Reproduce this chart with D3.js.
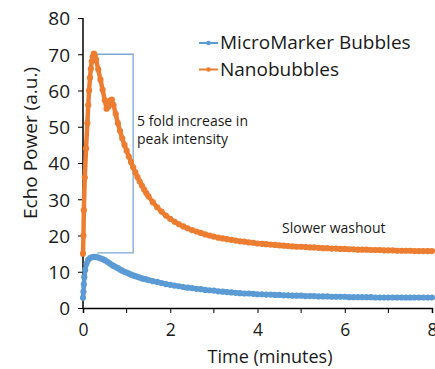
<!DOCTYPE html>
<html>
<head>
<meta charset="utf-8">
<script src="https://cdn.jsdelivr.net/npm/d3@7"></script>
<style>
  body { margin: 0; background: #fff; }
  text { font-family: "Open Sans", sans-serif; fill: #1a1a1a; }
</style>
</head>
<body>
<div id="chart"></div>
<script>
// Nanobubbles (orange) - time in minutes, echo power in a.u.
var nanoTime = [0, 0.01, 0.02, 0.04, 0.07, 0.10, 0.12, 0.14, 0.16, 0.18, 0.20, 0.22, 0.25,
  0.27, 0.30, 0.35, 0.40, 0.45, 0.50, 0.54, 0.58, 0.62, 0.66, 0.70, 0.75, 0.80, 0.85, 0.90, 0.95,
  1.00, 1.05, 1.10, 1.15, 1.20, 1.25, 1.30, 1.35, 1.40, 1.45, 1.50, 1.60, 1.70, 1.80, 1.90,
  2.00, 2.10, 2.20, 2.30, 2.40, 2.50, 2.60, 2.70, 2.80, 2.90, 3.00, 3.10, 3.20, 3.30, 3.40,
  3.50, 3.60, 3.70, 3.80, 3.90, 4.00, 4.10, 4.20, 4.30, 4.40, 4.50, 4.60, 4.70, 4.80, 4.90,
  5.00, 5.10, 5.20, 5.30, 5.40, 5.50, 5.60, 5.70, 5.80, 5.90, 6.00, 6.10, 6.20, 6.30, 6.40,
  6.50, 6.60, 6.70, 6.80, 6.90, 7.00, 7.10, 7.20, 7.30, 7.40, 7.50, 7.60, 7.70, 7.80, 7.90, 8.00];
var nanoValues = [15, 20, 27, 36, 44, 51, 56, 60, 63.5, 66, 68, 69.3, 70.2,
  69.8, 68.5, 65.8, 63, 60.2, 57.3, 55, 55.5, 57.2, 57.5, 56, 53.5, 51, 48.8, 46.8, 45,
  43.4, 41.8, 40.3, 38.8, 37.4, 36.1, 34.9, 33.8, 32.7, 31.7, 30.8, 29.2, 27.8, 26.6, 25.5,
  24.6, 23.8, 23.1, 22.5, 22.0, 21.5, 21.1, 20.7, 20.3, 20.0, 19.7, 19.4, 19.2, 19.0, 18.8,
  18.6, 18.4, 18.3, 18.1, 18.0, 17.8, 17.7, 17.6, 17.5, 17.4, 17.3, 17.2, 17.1, 17.0, 16.9,
  16.9, 16.8, 16.7, 16.7, 16.6, 16.5, 16.5, 16.4, 16.4, 16.3, 16.3, 16.2, 16.2, 16.1, 16.1,
  16.1, 16.0, 16.0, 16.0, 15.9, 15.9, 15.9, 15.8, 15.8, 15.8, 15.8, 15.7, 15.7, 15.7, 15.7, 15.7];

// MicroMarker Bubbles (blue)
var microTime = [0, 0.01, 0.02, 0.03, 0.05, 0.08, 0.12, 0.16, 0.20, 0.25, 0.30, 0.35, 0.40,
  0.45, 0.50, 0.55, 0.60, 0.65, 0.70, 0.75, 0.80, 0.85, 0.90, 0.95, 1.00, 1.05, 1.10, 1.15,
  1.20, 1.25, 1.30, 1.35, 1.40, 1.45, 1.50, 1.60, 1.70, 1.80, 1.90, 2.00, 2.10, 2.20, 2.30,
  2.40, 2.50, 2.60, 2.70, 2.80, 2.90, 3.00, 3.10, 3.20, 3.30, 3.40, 3.50, 3.60, 3.70, 3.80,
  3.90, 4.00, 4.10, 4.20, 4.30, 4.40, 4.50, 4.60, 4.70, 4.80, 4.90, 5.00, 5.10, 5.20, 5.30,
  5.40, 5.50, 5.60, 5.70, 5.80, 5.90, 6.00, 6.10, 6.20, 6.30, 6.40, 6.50, 6.60, 6.70, 6.80,
  6.90, 7.00, 7.10, 7.20, 7.30, 7.40, 7.50, 7.60, 7.70, 7.80, 7.90, 8.00];
var microValues = [2.8, 4.5, 6.5, 8.5, 10.5, 12.2, 13.3, 13.8, 14.0, 14.1, 14.1, 13.9, 13.7,
  13.5, 13.2, 12.8, 12.4, 12.0, 11.6, 11.3, 11.0, 10.6, 10.3, 10.0, 9.8, 9.5, 9.2, 9.0,
  8.8, 8.6, 8.4, 8.2, 8.0, 7.9, 7.7, 7.4, 7.2, 6.9, 6.6, 6.4, 6.2, 6.0, 5.8,
  5.6, 5.5, 5.3, 5.2, 5.0, 4.9, 4.8, 4.6, 4.5, 4.4, 4.3, 4.2, 4.1, 4.0, 4.0,
  3.9, 3.8, 3.8, 3.7, 3.7, 3.6, 3.6, 3.5, 3.5, 3.4, 3.4, 3.4, 3.3, 3.3, 3.3,
  3.2, 3.2, 3.2, 3.1, 3.1, 3.1, 3.1, 3.0, 3.0, 3.0, 3.0, 3.0, 3.0, 2.9, 2.9,
  2.9, 2.9, 2.9, 2.9, 2.9, 2.9, 2.9, 2.9, 2.9, 2.9, 2.9, 2.9];

var xTicks = [0, 2, 4, 6, 8];
var xMinorTicks = [1, 3, 5, 7];
var yTicks = [0, 10, 20, 30, 40, 50, 60, 70, 80];

// bracket marking the peak difference (time from, time to, top value, bottom value)
var bracket = { t0: 0.33, t1: 1.15, top: 70, bottom: 15.2 };

var width = 435;
var height = 369;
var margin = { top: 18, right: 3, bottom: 61, left: 83 };

var svg = d3.select('#chart').append('svg')
  .attr('width', width)
  .attr('height', height);

var x = d3.scaleLinear().domain([0, 8]).range([margin.left, width - margin.right]);
var y = d3.scaleLinear().domain([0, 80]).range([height - margin.bottom, margin.top]);

//Axes
var xAxis = svg.append('g')
  .attr('transform', 'translate(0,' + y(0) + ')')
  .call(d3.axisBottom(x).tickValues(xTicks).tickSize(5).tickPadding(11).tickFormat(d3.format('d')));
xAxis.append('g').selectAll('line').data(xMinorTicks).enter().append('line')
  .attr('x1', function(d) { return x(d); })
  .attr('x2', function(d) { return x(d); })
  .attr('y1', 0).attr('y2', 5)
  .attr('stroke', '#000');

var yAxis = svg.append('g')
  .attr('transform', 'translate(' + x(0) + ',0)')
  .call(d3.axisLeft(y).tickValues(yTicks).tickSize(5).tickPadding(8));

[xAxis, yAxis].forEach(function(a) {
  a.select('.domain').attr('stroke', '#000').attr('stroke-width', 1.5);
  a.selectAll('.tick line').attr('stroke', '#000');
  a.selectAll('.tick text').style('font-family', '"Open Sans", sans-serif').attr('fill', '#1a1a1a');
});
xAxis.selectAll('.tick text').style('font-size', '17.5px');
yAxis.selectAll('.tick text').style('font-size', '19px').attr('dy', '0.36em');
yAxis.select('.domain').attr('d', 'M0,' + y(80) + 'V' + y(0));

//Axis titles
svg.append('text')
  .attr('x', 270)
  .attr('y', 363)
  .attr('text-anchor', 'middle')
  .style('font-size', '18px')
  .text('Time (minutes)');

svg.append('text')
  .attr('transform', 'translate(37,143) rotate(-90)')
  .attr('text-anchor', 'middle')
  .style('font-size', '19px')
  .text('Echo Power (a.u.)');

//Bracket
svg.append('path')
  .attr('d', 'M' + x(bracket.t0) + ',' + y(bracket.top) + 'H' + x(bracket.t1) +
    'V' + y(bracket.bottom) + 'H' + x(bracket.t0))
  .attr('fill', 'none')
  .attr('stroke', '#7fa8d4')
  .attr('stroke-width', 1.3);

//Series
var series = [
  { name: 'MicroMarker Bubbles', color: '#5b9bd5', time: microTime, values: microValues },
  { name: 'Nanobubbles', color: '#ed7d31', time: nanoTime, values: nanoValues }
];

var line = d3.line()
  .x(function(d) { return x(d[0]); })
  .y(function(d) { return y(d[1]); });

series.forEach(function(s) {
  var pts = d3.zip(s.time, s.values);
  svg.append('path')
    .datum(pts)
    .attr('d', line)
    .attr('fill', 'none')
    .attr('stroke', s.color)
    .attr('stroke-width', 4.5)
    .attr('stroke-linejoin', 'round');
  svg.append('g').selectAll('circle').data(pts).enter().append('circle')
    .attr('cx', function(d) { return x(d[0]); })
    .attr('cy', function(d) { return y(d[1]); })
    .attr('r', 3.1)
    .attr('fill', s.color);
});

//Legend
var legend = svg.append('g');
series.forEach(function(s, i) {
  var ly = 43 + i * 26.5;
  legend.append('line')
    .attr('x1', 199).attr('x2', 218)
    .attr('y1', ly).attr('y2', ly)
    .attr('stroke', s.color).attr('stroke-width', 2);
  legend.append('circle')
    .attr('cx', 208.5).attr('cy', ly).attr('r', 2.3)
    .attr('fill', s.color);
  legend.append('text')
    .attr('x', 220)
    .attr('y', ly + 6)
    .style('font-size', '19px')
    .text(s.name);
});

//Annotations
svg.append('text')
  .attr('x', 137).attr('y', 126)
  .style('font-size', '14px')
  .text('5 fold increase in');
svg.append('text')
  .attr('x', 137).attr('y', 144)
  .style('font-size', '14px')
  .text('peak intensity');
svg.append('text')
  .attr('x', 282).attr('y', 233)
  .style('font-size', '14px')
  .text('Slower washout');
</script>
</body>
</html>
